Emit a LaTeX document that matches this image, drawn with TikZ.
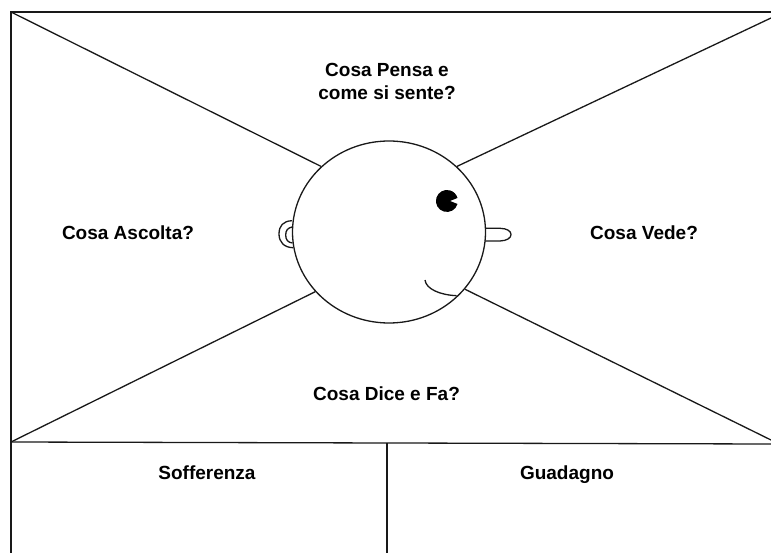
\documentclass[tikz,border=0pt]{standalone}
\usepackage{fontspec}
\setmainfont{Liberation Sans}
\usetikzlibrary{shapes.geometric}
\tikzset{
  ink/.style={draw=black!90, line width=1.3pt},
  head/.style={ellipse, ink, fill=white, minimum width=193pt, minimum height=182pt, inner sep=0pt},
  caption/.style={font=\fontsize{19}{23}\selectfont\bfseries, align=center, inner sep=0pt, text=black}
}
\begin{document}
\begin{tikzpicture}[x=1pt, y=-1pt]
  \useasboundingbox (0,0) rectangle (771,553);
  \fill[white] (0,0) rectangle (771,553);
  \clip (0,0) rectangle (771,553);

  % Sheet corners and junctions
  \coordinate (tl) at (11,12);
  \coordinate (tr) at (771,12);
  \coordinate (ml) at (11,442);
  \coordinate (mr) at (771,444);
  \coordinate (bl) at (11,553);
  \coordinate (dt) at (387,443);
  \coordinate (db) at (387,553);
  \coordinate (xtr) at (771,18);
  \coordinate (xbr) at (771,440);

  % Ear and nose sit behind the head outline
  \draw[ink] (292,220.7) .. controls (283,221) and (279,226) .. (279,234)
             .. controls (279,242) and (284,247.5) .. (293,247.7);
  \draw[ink] (292,227) .. controls (288,228) and (285.7,230) .. (285.7,235)
             .. controls (285.7,240) and (288,242.5) .. (292.5,243);
  \draw[ink] (485,228.3) -- (500,228.3) .. controls (507,228.5) and (511,231) .. (511,234.5)
             .. controls (511,238) and (507,240.7) .. (500,241) -- (485,241);

  \node[head] (face) at (389,232) {};

  % Frame, divider and diagonals
  \draw[ink] (bl) -- (tl) -- (tr);
  \draw[ink] (ml) -- (mr);
  \draw[ink] (dt) -- (db);
  \draw[ink] (tl) -- (face.136.9);
  \draw[ink] (xtr) -- (face.44);
  \draw[ink] (ml) -- (face.219.2);
  \draw[ink] (xbr) -- (face.323.3);

  % Eye with its notch, and the mouth
  \fill[black] (450,201) -- (457.5,204) arc[start angle=16, delta angle=328, radius=11] -- cycle;
  \draw[ink] (425,280) .. controls (426,289) and (440,295) .. (456.7,295.7);

  % Captions
  \node[caption] (pensa) at (387,81) {Cosa Pensa e\\come si sente?};
  \node[caption, anchor=base] (ascolta) at (128,239.5) {Cosa Ascolta?};
  \node[caption, anchor=base] (vede) at (644,239.5) {Cosa Vede?};
  \node[caption, anchor=base] (dice) at (386.5,400.5) {Cosa Dice e Fa?};
  \node[caption, anchor=base] (soff) at (207,479) {Sofferenza};
  \node[caption, anchor=base] (guad) at (567,479) {Guadagno};
\end{tikzpicture}
\end{document}
